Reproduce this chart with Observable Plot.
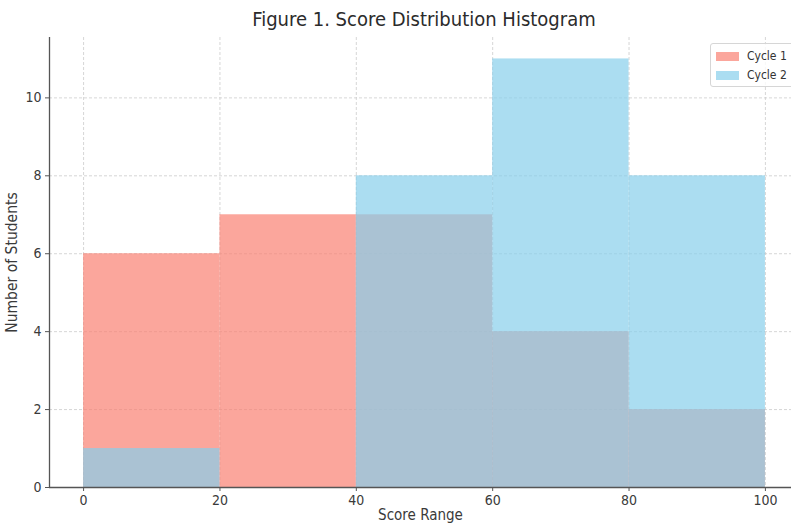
<!DOCTYPE html>
<html><head><meta charset="utf-8">
<script src="https://cdn.jsdelivr.net/npm/d3@7"></script>
<script src="https://cdn.jsdelivr.net/npm/@observablehq/plot@0.6"></script>
<style>
body{margin:0;background:#fff;font-family:"DejaVu Sans Condensed","DejaVu Sans",sans-serif;}
#wrap{position:relative;width:791px;height:524px;overflow:hidden;}
#title{position:absolute;left:49px;width:750px;top:7px;text-align:center;font-size:20px;color:#2b2b2b;}
#legend{position:absolute;left:710px;top:43px;width:90px;height:42px;border:1px solid #d6d6d6;border-radius:3px;background:rgba(255,255,255,0.8);font-size:12px;color:#333;}
.row{position:absolute;left:5px;height:14px;display:flex;align-items:center;}
.sw{width:23px;height:9px;margin-right:8px;}
#plot{position:absolute;left:0;top:0;}
</style></head>
<body><div id="wrap"><div id="plot"></div><div id="title">Figure 1. Score Distribution Histogram</div><div id="legend"></div></div>
<script>
const binEdges = [0, 20, 40, 60, 80, 100];
const cycle1 = [6, 7, 7, 4, 2];
const cycle2 = [1, 0, 8, 11, 8];
const seriesNames = ["Cycle 1", "Cycle 2"];
const seriesColors = ["#FA8072", "#87CEEB"];
const xTicks = [0, 20, 40, 60, 80, 100];
const yTicks = [0, 2, 4, 6, 8, 10];

const rows = [];
[cycle1, cycle2].forEach((vals, s) => vals.forEach((v, i) => rows.push({series: seriesNames[s], x1: binEdges[i], x2: binEdges[i+1], y: v})));

const font = '"DejaVu Sans Condensed","DejaVu Sans",sans-serif';
const chart = Plot.plot({
  width: 791, height: 524,
  marginTop: 37, marginBottom: 37, marginLeft: 49, marginRight: 0,
  style: {fontFamily: font, fontSize: "14px", color: "#3a3a3a", background: "white"},
  x: {domain: [-5, 105], range: [49, 799]},
  y: {domain: [0, 11.55]},
  color: {domain: seriesNames, range: seriesColors},
  marks: [
    Plot.ruleX(xTicks, {stroke: "#ccc", strokeDasharray: "3,2", strokeWidth: 0.8}),
    Plot.ruleY(yTicks, {stroke: "#ccc", strokeDasharray: "3,2", strokeWidth: 0.8}),
    Plot.rect(rows, {x1: "x1", x2: "x2", y1: 0, y2: "y", fill: "series", fillOpacity: 0.7}),
    Plot.ruleX([-5], {stroke: "#555", strokeWidth: 1.3}),
    Plot.ruleY([0], {stroke: "#555", strokeWidth: 1.3}),
    Plot.axisX({ticks: xTicks, tickSize: 4, tickPadding: 4, stroke: "#555", fill: "#3a3a3a", label: null, fontSize: 14}),
    Plot.axisY({ticks: yTicks, tickSize: 4, tickPadding: 4, stroke: "#555", fill: "#3a3a3a", label: null, fontSize: 14}),
    Plot.text(["Score Range"], {frameAnchor: "bottom", dy: 32, fontSize: 15, fill: "#3a3a3a"}),
    Plot.text(["Number of Students"], {frameAnchor: "left", textAnchor: "middle", dx: -37, rotate: -90, fontSize: 15.5, fill: "#3a3a3a"})
  ]
});
document.getElementById("plot").appendChild(chart);

const lg = document.getElementById("legend");
seriesNames.forEach((n, i) => {
  const r = document.createElement("div");
  r.className = "row"; r.style.top = (5 + i * 19) + "px";
  r.innerHTML = `<div class="sw" style="background:${seriesColors[i]};opacity:0.7"></div><span>${n}</span>`;
  lg.appendChild(r);
});
</script></body></html>
